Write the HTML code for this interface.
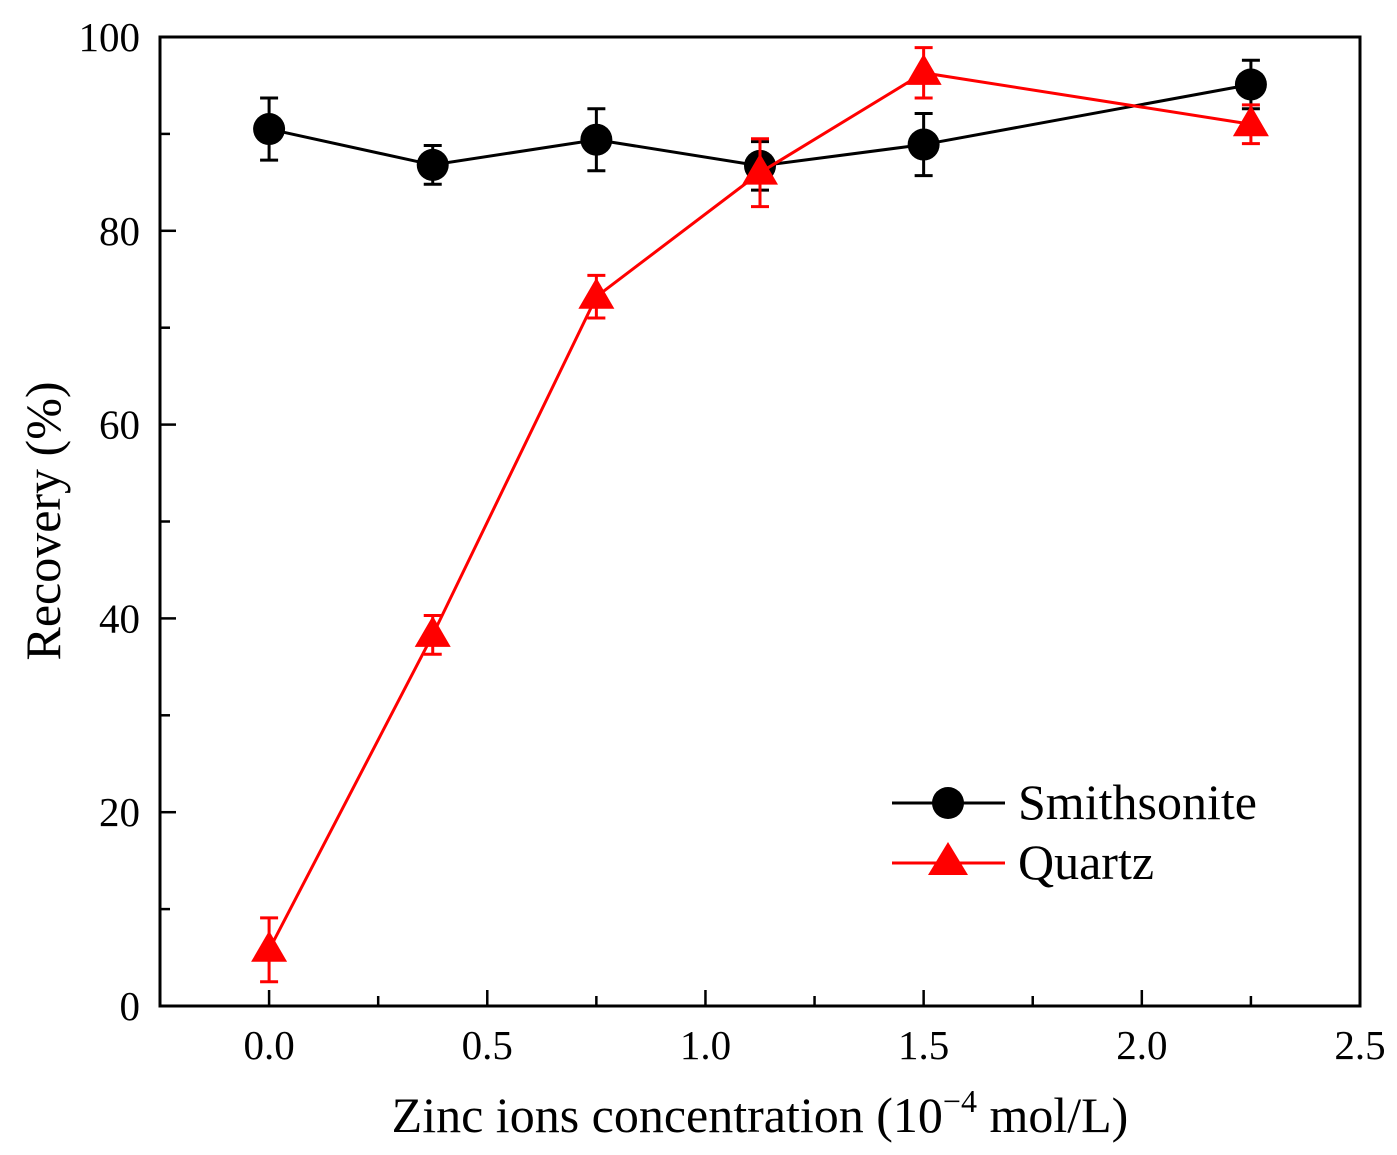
<!DOCTYPE html>
<html><head><meta charset="utf-8"><style>
body{margin:0;background:#fff}
svg text{font-family:"Liberation Serif",serif;fill:#000}
</style></head><body>
<svg id="chart" width="1397" height="1150" viewBox="0 0 1397 1150">
<rect x="160" y="37" width="1200" height="969" fill="none" stroke="#000" stroke-width="3"/>
<g id="axes"></g>
<g id="series"></g>
<text x="760" y="1132" font-size="50" text-anchor="middle">Zinc ions concentration (10<tspan dy="-20" font-size="32">−4</tspan><tspan dy="20"> mol/L)</tspan></text>
<text transform="translate(60,521) rotate(-90)" font-size="50" text-anchor="middle">Recovery (%)</text>
<g>
<line x1="892" y1="803" x2="1005" y2="803" stroke="#000" stroke-width="3"/>
<circle cx="948" cy="803" r="16" fill="#000"/>
<text x="1018" y="819" font-size="50">Smithsonite</text>
<line x1="892" y1="863" x2="1005" y2="863" stroke="#f00" stroke-width="3"/>
<polygon points="948,842 968,875 928,875" fill="#f00"/>
<text x="1018" y="879" font-size="50">Quartz</text>
</g>
</svg>
<script>
const xValues=[0,0.375,0.75,1.125,1.5,2.25];
const smithY=[90.5,86.8,89.4,86.7,88.9,95.1];
const smithErr=[3.2,2.0,3.2,2.5,3.2,2.5];
const quartzY=[5.8,38.3,73.2,86.0,96.3,91.0];
const quartzErr=[3.3,2.0,2.2,3.5,2.6,2.0];
const xTicks=[0,0.5,1.0,1.5,2.0,2.5];
const xTickLabels=["0.0","0.5","1.0","1.5","2.0","2.5"];
const yTicks=[0,20,40,60,80,100];
const yTickLabels=["0","20","40","60","80","100"];
const NS="http://www.w3.org/2000/svg";
const X=v=>160+(v+0.25)/2.75*1200;
const Y=v=>1006-v/100*969;
function mk(t,a,p){const e=document.createElementNS(NS,t);for(const k in a)e.setAttribute(k,a[k]);p.appendChild(e);return e;}
const ax=document.getElementById('axes');
xTicks.forEach((t,i)=>{
 const l=mk('line',{x1:X(t),x2:X(t),y1:1006,y2:990,stroke:'#000','stroke-width':2.5},ax);
 
 
 const m=mk('line',{x1:X(t+0.25),x2:X(t+0.25),y1:1006,y2:996,stroke:'#000','stroke-width':2.5},ax);
 
 
 const tx=mk('text',{x:X(t),y:1059,'font-size':41,'text-anchor':'middle'},ax);tx.textContent=xTickLabels[i];
 
 
});
yTicks.forEach((t,i)=>{
 const l=mk('line',{x1:160,x2:176,y1:Y(t),y2:Y(t),stroke:'#000','stroke-width':2.5},ax);
 
 
 if(t<100){const m=mk('line',{x1:160,x2:170,y1:Y(t+10),y2:Y(t+10),stroke:'#000','stroke-width':2.5},ax);
 
 }
 const tx=mk('text',{x:140,y:Y(t)+14,'font-size':41,'text-anchor':'end'},ax);tx.textContent=yTickLabels[i];
 
 
});
const sg=document.getElementById('series');
function series(ys,errs,col,name,tri){
 const pl=mk('polyline',{points:xValues.map((x,i)=>X(x)+','+Y(ys[i])).join(' '),fill:'none',stroke:col,'stroke-width':3},sg);
 
 
 xValues.forEach((x,i)=>{
  const cx=X(x),t=Y(ys[i]+errs[i]),b=Y(ys[i]-errs[i]);
  const e=mk('path',{d:`M${cx},${t}V${b}M${cx-9},${t}H${cx+9}M${cx-9},${b}H${cx+9}`,stroke:col,'stroke-width':3,fill:'none'},sg);
  
  
  const cy=Y(ys[i]);
  const p=tri?mk('polygon',{points:`${cx},${cy-19} ${cx+18},${cy+12} ${cx-18},${cy+12}`,fill:col},sg):mk('circle',{cx:cx,cy:cy,r:16,fill:col},sg);
  
  
 });
}
series(smithY,smithErr,'#000','smithsonite',false);
series(quartzY,quartzErr,'#f00','quartz',true);
</script>
</body></html>
